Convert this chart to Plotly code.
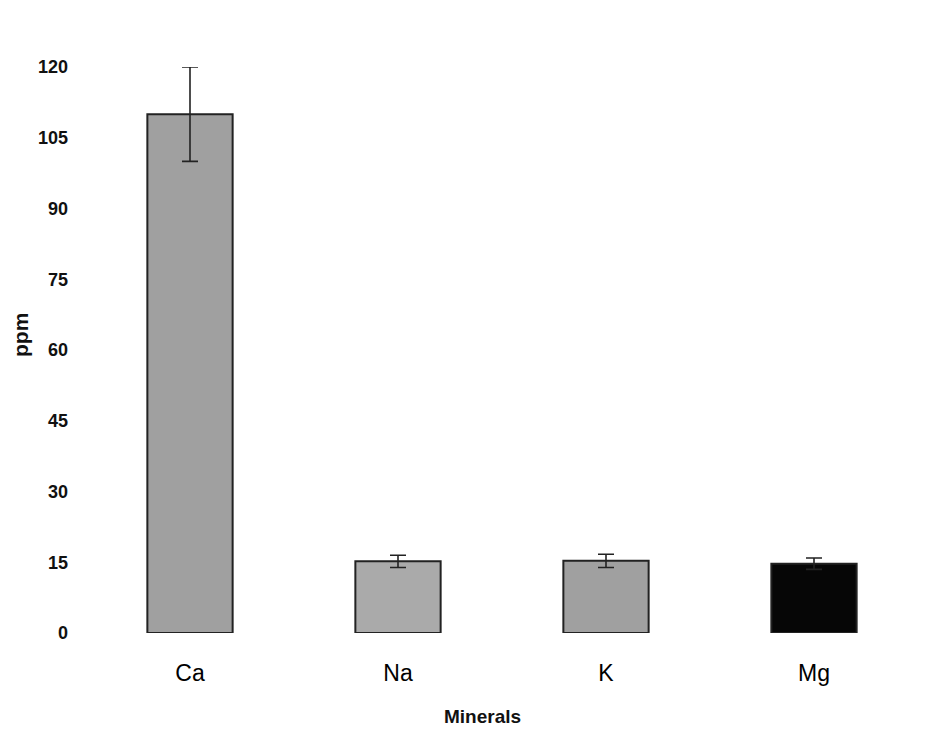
import plotly.graph_objects as go

minerals = ["Ca", "Na", "K", "Mg"]
ppm = [110, 15.2, 15.3, 14.7]
ppm_err = [10, 1.3, 1.4, 1.2]
bar_colors = ["#a0a0a0", "#aaaaaa", "#a0a0a0", "#060606"]
y_ticks = [0, 15, 30, 45, 60, 75, 90, 105, 120]

fig = go.Figure()
fig.add_trace(go.Bar(
    x=minerals,
    y=ppm,
    width=0.41,
    marker=dict(color=bar_colors, line=dict(color="#222222", width=2)),
    error_y=dict(type="data", array=ppm_err, visible=True,
                 color="#222222", thickness=1.6, width=8),
))

fig.update_layout(
    width=928, height=753,
    margin=dict(l=86, r=10, t=67, b=120),
    paper_bgcolor="white", plot_bgcolor="white",
    showlegend=False,
    font=dict(family="Liberation Sans, Arial, sans-serif", color="#111"),
    xaxis=dict(
        showline=False, showgrid=False, ticks="",
        tickfont=dict(size=23, color="#000"),
        ticklabelstandoff=24,
    ),
    yaxis=dict(
        range=[0, 120], tickvals=y_ticks,
        ticktext=[f"<b>{v}</b>" for v in y_ticks],
        showline=False, showgrid=False, zeroline=False, ticks="",
        tickfont=dict(size=18, color="#111"),
        ticklabelstandoff=17,
    ),
    annotations=[
        dict(text="<b>Minerals</b>", xref="paper", yref="paper",
             x=(482 - 86) / 832, y=(633 - 716) / 566,
             xanchor="center", yanchor="middle", showarrow=False,
             font=dict(size=19, color="#111")),
        dict(text="<b>ppm</b>", xref="paper", yref="paper",
             x=(20 - 86) / 832, y=(633 - 335) / 566, textangle=-90,
             xanchor="center", yanchor="middle", showarrow=False,
             font=dict(size=21, color="#111")),
    ],
)

fig.write_html("out.html")
